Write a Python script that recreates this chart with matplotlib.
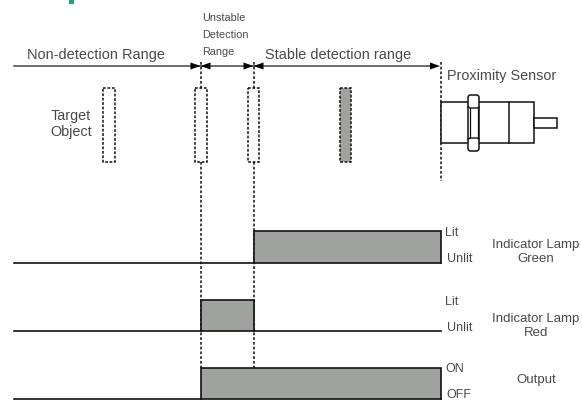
# proximity sensor timing diagram, drawn in pixel coordinates of the reference
import matplotlib
matplotlib.use("Agg")
import matplotlib.pyplot as plt
from matplotlib.patches import Rectangle, FancyBboxPatch

plt.rcParams['font.family'] = ['Liberation Sans', 'DejaVu Sans']

# timing edges
start_x = 13.5
unstable_x = 200.5
stable_x = 253.5
end_x = 441

# rows: baseline, top, (on, off), state labels, name
row_base = [262.5, 331, 399]
row_top = [231, 299.5, 368]
row_on = [(stable_x, end_x), (unstable_x, stable_x), (unstable_x, end_x)]
row_states = [("Lit", "Unlit"), ("Lit", "Unlit"), ("ON", "OFF")]
row_state_y = [(233.5, 258.5), (302, 328), (369.5, 395)]
row_names = ["Indicator Lamp\nGreen", "Indicator Lamp\nRed", "Output"]
row_name_y = [252, 326, 380.5]

# target object positions
object_x = [103, 195, 247.5, 339.5]
object_fill = ["white", "white", "white", "#a0a2a0"]

TEXT = "#4a4a4a"
LINE = "#111111"
FILL = "#a0a2a0"


def dashed(ax, xs, ys):
    ax.plot(xs, ys, color=LINE, lw=1.1, linestyle=(0, (1.8, 1.3)), zorder=1)


fig = plt.figure(figsize=(5.82, 4.0), dpi=100)
ax = fig.add_axes([0, 0, 1, 1])
ax.set_xlim(0, 582)
ax.set_ylim(400, 0)
ax.axis("off")

# logo fragment at the top edge
ax.add_patch(Rectangle((69, 0), 5, 4, color="#1aa77f", lw=0))

# range arrow line
ax.plot([start_x, 436], [66, 66], color="#444444", lw=1.1, zorder=2)
for tip, direction in [(unstable_x, 1), (unstable_x, -1), (stable_x, 1), (stable_x, -1), (end_x - 1, 1)]:
    ax.fill([tip, tip - direction * 10, tip - direction * 10], [66, 62.5, 69.5], color="black", lw=0, zorder=3)

# dashed guides
for x in [unstable_x, stable_x]:
    dashed(ax, [x, x], [62, 88])
    dashed(ax, [x, x], [161.5, 368])
dashed(ax, [end_x, end_x], [62, 181])

# target objects
for x, fc in zip(object_x, object_fill):
    ax.add_patch(Rectangle((x, 88), 11.5, 73.5, facecolor=fc, edgecolor=LINE, lw=1.1,
                           linestyle=(0, (1.8, 1.1)), zorder=2))

# sensor body
ax.add_patch(Rectangle((441, 102), 93, 41, facecolor="white", edgecolor=LINE, lw=1.1, zorder=2))
ax.plot([509, 509], [102, 143], color=LINE, lw=1.1, zorder=3)
ax.add_patch(Rectangle((534, 118), 23, 10, facecolor="white", edgecolor=LINE, lw=1.1, zorder=2))
ax.add_patch(FancyBboxPatch((468, 95), 11, 56, boxstyle="round,pad=0,rounding_size=2.5",
                            facecolor="white", edgecolor=LINE, lw=1.1, zorder=4))
ax.plot([468, 470, 477, 479], [107, 108, 108, 107], color=LINE, lw=1.0, zorder=5)
ax.plot([468, 470, 477, 479], [139, 138, 138, 139], color=LINE, lw=1.0, zorder=5)
ax.plot([469.5, 469.5], [108, 138], color=LINE, lw=0.9, zorder=5)
ax.plot([477.5, 477.5], [108, 138], color=LINE, lw=0.9, zorder=5)

# timing rows
for base, top, (on, off), states, state_y, name, name_y in zip(
        row_base, row_top, row_on, row_states, row_state_y, row_names, row_name_y):
    ax.add_patch(Rectangle((on, top), off - on, base - top, facecolor=FILL, edgecolor="none", zorder=2))
    ax.plot([start_x, on, on, off, off] + ([end_x] if off < end_x else []),
            [base, base, top, top, base] + ([base] if off < end_x else []),
            color=LINE, lw=1.2, zorder=3, solid_joinstyle="miter")
    ax.plot([on, off], [base, base], color=LINE, lw=1.2, zorder=3)
    ax.text(445.5, state_y[0], states[0], fontsize=9.0, color=TEXT, ha="left", va="center")
    ax.text(446.5, state_y[1], states[1], fontsize=9.0, color=TEXT, ha="left", va="center")
    ax.text(536, name_y, name, fontsize=9.5, color=TEXT, ha="center", va="center", linespacing=1.2)

# top labels
ax.text(27, 55, "Non-detection Range", fontsize=10.45, color=TEXT, ha="left", va="center")
ax.text(265, 55, "Stable detection range", fontsize=10.45, color=TEXT, ha="left", va="center")
ax.text(202, 35, "Unstable\nDetection\nRange", fontsize=7.8, color=TEXT, ha="left", va="center",
        linespacing=1.85, stretch="condensed")
ax.text(447, 76, "Proximity Sensor", fontsize=10.4, color=TEXT, ha="left", va="center")
ax.text(50.5, 124, "Target\nObject", fontsize=10.4, color=TEXT, ha="left", va="center", linespacing=1.25)

fig.savefig("out.png", dpi=100)
